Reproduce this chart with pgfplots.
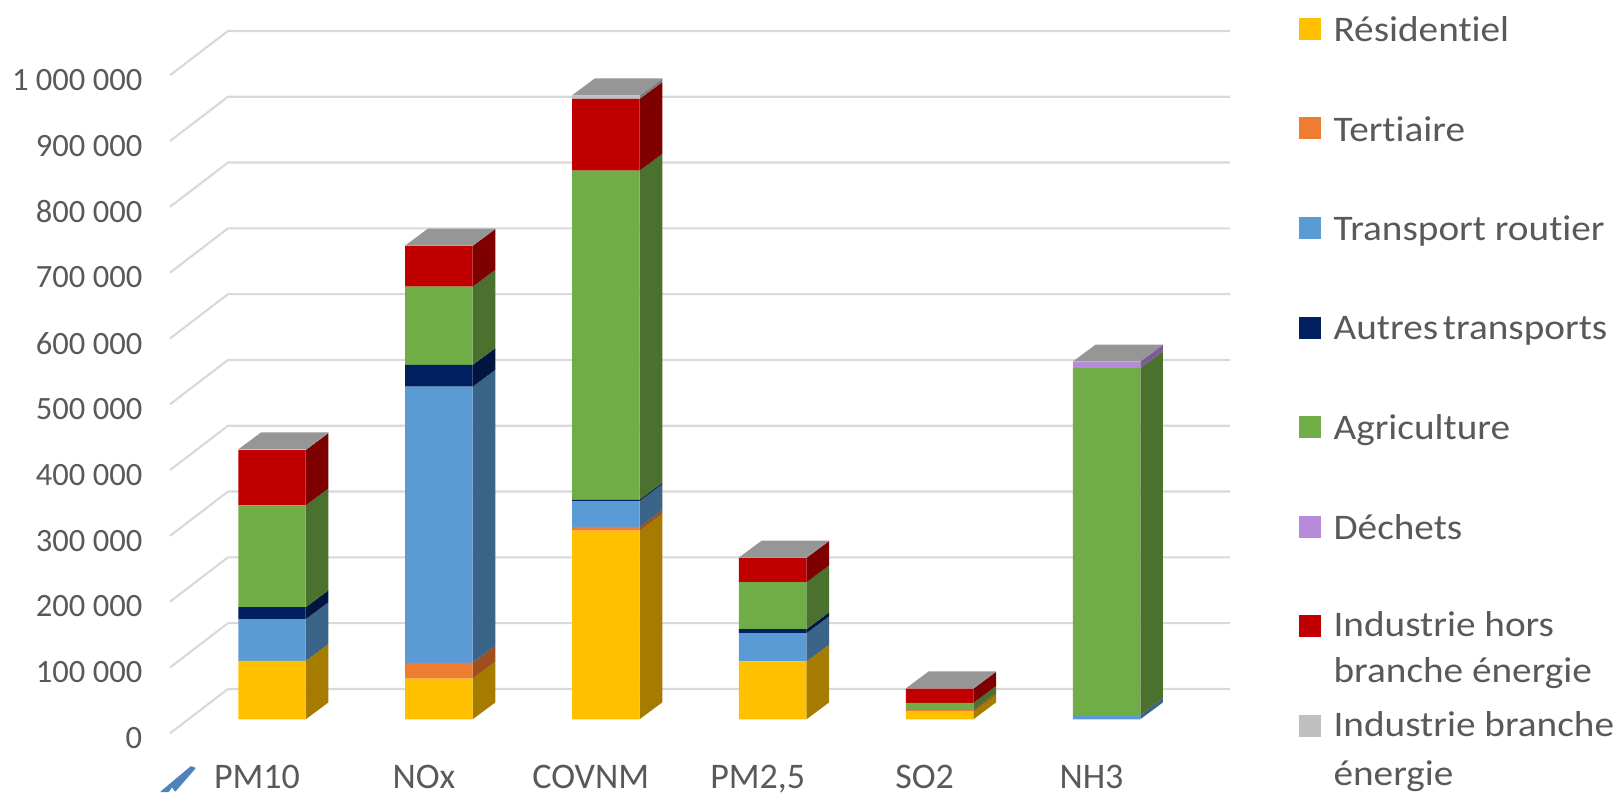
\documentclass[border=0pt]{standalone}
\usepackage{pgfplots}
\usepackage{pgfplotstable}
\usepackage{fontspec}
\pgfplotsset{compat=1.18}
\setmainfont{Carlito}[Ligatures=NoCommon]
\newfontfamily\widefont[FakeStretch=1.09,Ligatures=NoCommon]{Carlito}
\definecolor{labelgrey}{HTML}{595959}
\definecolor{gridgrey}{HTML}{D9D9D9}
\definecolor{cRes}{HTML}{FFC000}\definecolor{sRes}{HTML}{A67C00}
\definecolor{cTer}{HTML}{ED7D31}\definecolor{sTer}{HTML}{9E4F1C}
\definecolor{cTra}{HTML}{5B9BD5}\definecolor{sTra}{HTML}{3A6488}
\definecolor{cAut}{HTML}{002060}\definecolor{sAut}{HTML}{001540}
\definecolor{cAgr}{HTML}{70AD47}\definecolor{sAgr}{HTML}{4A722E}
\definecolor{cDec}{HTML}{B68CDA}\definecolor{sDec}{HTML}{7B5C94}
\definecolor{cInd}{HTML}{C00000}\definecolor{sInd}{HTML}{7F0000}
\definecolor{cBra}{HTML}{BFBFBF}\definecolor{sBra}{HTML}{7F7F7F}\definecolor{tBra}{HTML}{969696}
\definecolor{pointer}{HTML}{4F81BD}

% Unit vertices of a right-hand face and of a top face, in bar-depth terms
\pgfplotstableread[row sep=\\]{k l h\\ 0 1 0\\ 1 1 0\\ 1 0 1\\ 0 0 1\\ 0 1 0\\}\sideshape
\pgfplotstableread[row sep=\\]{f k\\ -1 0\\ 1 0\\ 1 1\\ -1 1\\ -1 0\\}\topshape
\newcommand{\side}[4]{\addplot[fill=#4,draw=none] table[
    x expr={#1+0.2022+0.136*\thisrow{k}},
    y expr={(#2)*\thisrow{l}+(#3)*\thisrow{h}+25700*\thisrow{k}}]{\sideshape};}
\newcommand{\topface}[2]{\addplot[fill=tBra,draw=none] table[
    x expr={#1+0.2022*\thisrow{f}+0.136*\thisrow{k}},
    y expr={#2+25700*\thisrow{k}}]{\topshape};}

\pgfplotsset{
  common/.style={
    scale only axis, width=795pt, height=493.5pt,
    at={(127.5pt,44.025pt)}, anchor=south west,
    xmin=-0.6111, xmax=5.740, clip=false},
}
\begin{document}
\begin{tikzpicture}
\useasboundingbox (0,0) rectangle (1212pt,594pt);
% Wall and floor gridlines, with the value and category labels
\begin{axis}[common, ymin=0, ymax=1000000, scaled y ticks=false,
    axis line style={draw=none}, major tick length=0pt,
    axis x line*=bottom, axis y line*=left,
    xtick={0,1,2,3,4,5},
    xticklabels={PM10,NOx,COVNM,{PM2,5},SO2,NH3},
    ytick={0,100000,200000,300000,400000,500000,600000,700000,800000,900000,1000000},
    yticklabels={0,100 000,200 000,300 000,400 000,500 000,600 000,700 000,800 000,900 000,1 000 000},
    tick label style={text=labelgrey},
    yticklabel style={font=\fontsize{24.4pt}{29pt}\selectfont, xshift=-17.3pt, yshift=-3.6pt},
    xticklabel style={font=\fontsize{27pt}{32pt}\selectfont, xshift=-11.25pt, yshift=-20.5pt},
  ]
  \pgfplotsinvokeforeach{0,100000,200000,300000,400000,500000,600000,700000,800000,900000,1000000}{
    \addplot[gridgrey,line width=1.6pt,line join=round] table[row sep=\\,
      x=x, y expr={#1+\thisrow{d}}]{x d\\ -0.6111 0\\ -0.2636 67400\\ 5.740 67400\\};
  }
\end{axis}
% Side and top faces of the columns
\begin{axis}[common, hide axis, ymin=-21293, ymax=979468]
  \side{0}{0}{89000}{sRes}\side{0}{89000}{152500}{sTra}\side{0}{152500}{170500}{sAut}
  \side{0}{170500}{325500}{sAgr}\side{0}{325500}{409500}{sInd}\side{0}{409500}{410500}{sBra}
  \topface{0}{410500}
  \side{1}{0}{62000}{sRes}\side{1}{62000}{86000}{sTer}\side{1}{86000}{506000}{sTra}
  \side{1}{506000}{539000}{sAut}\side{1}{539000}{658000}{sAgr}\side{1}{658000}{720000}{sInd}
  \side{1}{720000}{720500}{sBra}
  \topface{1}{720500}
  \side{2}{0}{287000}{sRes}\side{2}{287000}{292500}{sTer}\side{2}{292500}{332000}{sTra}
  \side{2}{332000}{334000}{sAut}\side{2}{334000}{834500}{sAgr}\side{2}{834500}{943500}{sInd}
  \side{2}{943500}{949000}{sBra}
  \topface{2}{949000}
  \side{3}{0}{88000}{sRes}\side{3}{88000}{131000}{sTra}\side{3}{131000}{137000}{sAut}
  \side{3}{137000}{208500}{sAgr}\side{3}{208500}{245500}{sInd}\side{3}{245500}{246000}{sBra}
  \topface{3}{246000}
  \side{4}{0}{11500}{sRes}\side{4}{11500}{14000}{sTer}\side{4}{14000}{25000}{sAgr}
  \side{4}{25000}{46500}{sInd}\side{4}{46500}{47000}{sBra}
  \topface{4}{47000}
  \side{5}{0}{6500}{sTra}\side{5}{6500}{534000}{sAgr}\side{5}{534000}{544000}{sDec}
  \topface{5}{544000}
\end{axis}
% Front faces, stacked by sector
\begin{axis}[common, hide axis, ymin=-21293, ymax=979468,
    ybar stacked, bar width=50.6pt,
    legend image code/.code={\fill[#1] (0pt,-7.3pt) rectangle (16.5pt,9.2pt);},
    legend cell align=left,
    legend style={at={(1.0647,1.1444)}, anchor=north west, draw=none, fill=none,
      inner sep=0pt, outer sep=0pt,
      font=\widefont\fontsize{27pt}{34.5pt}\selectfont, text=labelgrey,
      nodes={inner sep=0pt, outer sep=0pt, minimum height=74.7pt},
      column sep=9.75pt, row sep=0pt},
  ]
  \addplot[fill=cRes,draw=none] coordinates {(0,89000)(1,62000)(2,287000)(3,88000)(4,11500)(5,0)};
  \addlegendentry{Résidentiel}
  \addplot[fill=cTer,draw=none] coordinates {(0,0)(1,24000)(2,5500)(3,0)(4,2500)(5,0)};
  \addlegendentry{Tertiaire}
  \addplot[fill=cTra,draw=none] coordinates {(0,63500)(1,420000)(2,39500)(3,43000)(4,0)(5,6500)};
  \addlegendentry{Transport routier}
  \addplot[fill=cAut,draw=none] coordinates {(0,18000)(1,33000)(2,2000)(3,6000)(4,0)(5,0)};
  \addlegendentry{Autres\hspace{-3pt} transports}
  \addplot[fill=cAgr,draw=none] coordinates {(0,155000)(1,119000)(2,500500)(3,71500)(4,11000)(5,527500)};
  \addlegendentry{Agriculture}
  \addplot[fill=cDec,draw=none] coordinates {(0,0)(1,0)(2,0)(3,0)(4,0)(5,10000)};
  \addlegendentry{Déchets}
  \addplot[fill=cInd,draw=none] coordinates {(0,84000)(1,62000)(2,109000)(3,37000)(4,21500)(5,0)};
  \addlegendentry{\smash{\raisebox{-7.7pt}{\begin{tabular}[t]{@{}l@{}}Industrie hors\\branche énergie\end{tabular}}}}
  \addplot[fill=cBra,draw=none] coordinates {(0,1000)(1,500)(2,5500)(3,500)(4,500)(5,0)};
  \addlegendentry{\smash{\raisebox{-7.7pt}{\begin{tabular}[t]{@{}l@{}}Industrie branche\\[2.5pt]énergie\end{tabular}}}}
\end{axis}
% Small pointer stroke at the lower left corner
\fill[pointer,rounded corners=0.6pt] (147pt,18pt) -- (143.25pt,19.5pt) -- (120pt,0pt) -- (126.75pt,0pt) -- (129pt,3.75pt) -- (131.25pt,0pt) -- cycle;
\end{tikzpicture}
\end{document}
